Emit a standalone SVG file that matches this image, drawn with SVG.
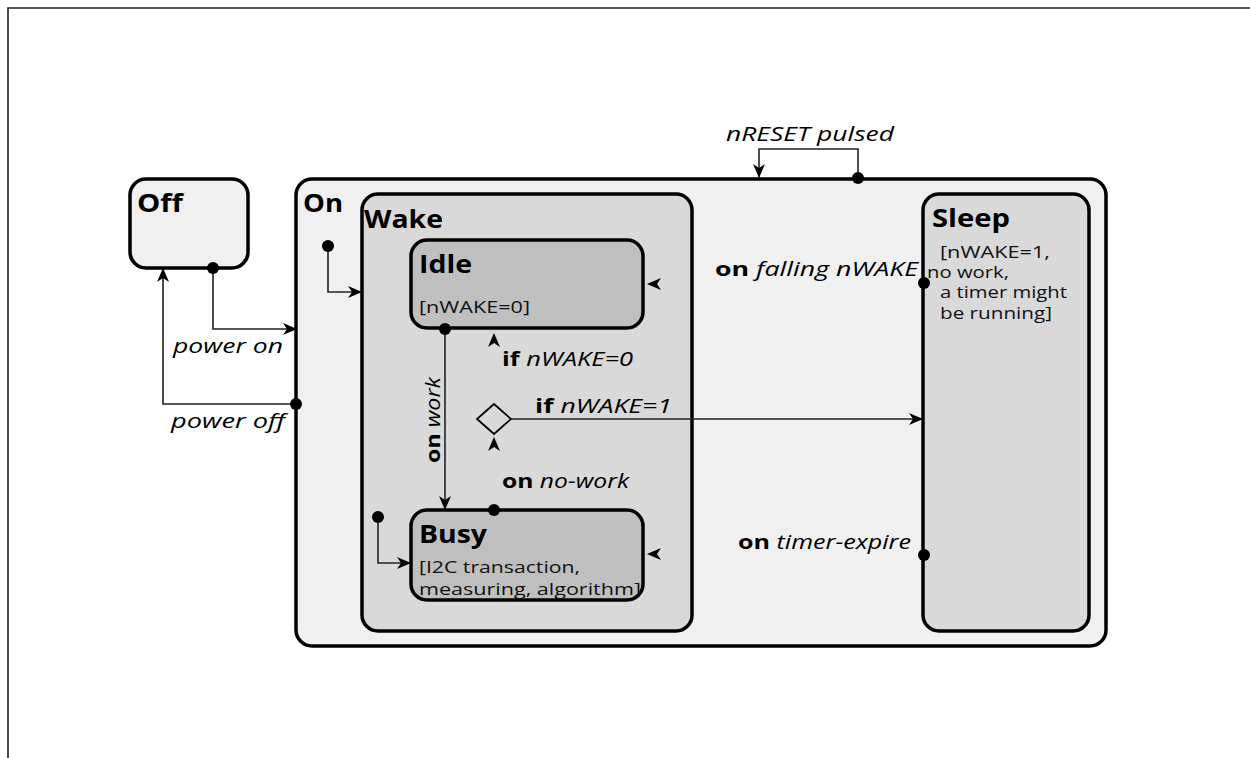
<svg xmlns="http://www.w3.org/2000/svg" xmlns:xlink="http://www.w3.org/1999/xlink" width="1250" height="758" viewBox="0 0 1250 758">
<style>
.frame{fill:none;stroke:#222;stroke-width:1.6}
.st{stroke:#000;stroke-width:3.5}
.l1{fill:#f0f0f0}
.l2{fill:#d9d9d9}
.l3{fill:#bfbfbf}
.title{font-family:"Open Sans","DejaVu Sans",sans-serif;font-weight:bold;font-size:25px;fill:#000}
.body{font-family:"Open Sans","DejaVu Sans",sans-serif;font-size:17px;fill:#111}
.lbl{font-family:"Open Sans","DejaVu Sans",sans-serif;font-size:20px;fill:#000}
.b{font-weight:bold;font-style:normal}
.i{font-style:italic}
.c{fill:none;stroke:#222;stroke-width:1.6}
.dot{fill:#000}
</style>
<defs>
<marker id="arr" viewBox="0 0 14 12" refX="13" refY="6" markerWidth="14" markerHeight="12" markerUnits="userSpaceOnUse" orient="auto">
<path d="M0,0 L14,6 L0,12 L4,6 z" fill="#000"/>
</marker>
<path id="dart" d="M0,0 L-14,-6 L-10,0 L-14,6 z" fill="#000"/>
</defs>
<rect width="1250" height="758" fill="#fff"/>
<path class="frame" d="M8,758 L8,8 L1250,8"/>

<g id="Off">
<rect class="st l1" x="130" y="179" width="118" height="89" rx="16"/>
<text class="title" x="137" y="212" textLength="46" lengthAdjust="spacingAndGlyphs">Off</text>
</g>
<g id="On">
<rect class="st l1" x="296" y="179" width="810" height="467" rx="16"/>
<text class="title" x="303" y="212" textLength="40" lengthAdjust="spacingAndGlyphs">On</text>
</g>
<g id="Wake">
<rect class="st l2" x="362" y="194" width="330" height="437" rx="16"/>
<text class="title" x="364" y="228" textLength="79" lengthAdjust="spacingAndGlyphs">Wake</text>
</g>
<g id="Idle">
<rect class="st l3" x="411" y="240" width="232" height="88" rx="16"/>
<text class="title" x="419" y="273" font-size="27" textLength="53" lengthAdjust="spacingAndGlyphs">Idle</text>
<text class="body" x="419" y="313" font-size="18" textLength="111" lengthAdjust="spacingAndGlyphs">[nWAKE=0]</text>
</g>
<g id="Busy">
<rect class="st l3" x="411" y="510" width="232" height="90" rx="16"/>
<text class="title" x="419" y="543" font-size="27" textLength="68" lengthAdjust="spacingAndGlyphs">Busy</text>
<text class="body" x="419" y="573" textLength="161" lengthAdjust="spacingAndGlyphs">[I2C transaction,</text>
<text class="body" x="419" y="595" textLength="222" lengthAdjust="spacingAndGlyphs">measuring, algorithm]</text>
</g>
<g id="Sleep">
<rect class="st l2" x="923" y="194" width="166" height="437" rx="16"/>
<text class="title" x="932" y="227" font-size="27" textLength="78" lengthAdjust="spacingAndGlyphs">Sleep</text>
<text class="body" x="940" y="258" font-size="15" textLength="110" lengthAdjust="spacingAndGlyphs">[nWAKE=1,</text>
<text class="body" x="927" y="278" font-size="15" textLength="82" lengthAdjust="spacingAndGlyphs">no work,</text>
<text class="body" x="940" y="298" font-size="15" textLength="127" lengthAdjust="spacingAndGlyphs">a timer might</text>
<text class="body" x="940" y="319" font-size="15" textLength="112" lengthAdjust="spacingAndGlyphs">be running]</text>
</g>
<g id="Choice">
<path d="M494,404 L511,419 L494,434 L477,419 z" fill="#d9d9d9" stroke="#000" stroke-width="1.8"/>
</g>

<g id="connectors">
<path class="c" d="M213,268 L213,329 L296,329" marker-end="url(#arr)"/>
<circle class="dot" cx="213" cy="268" r="6"/>
<path class="c" d="M296,404 L163,404 L163,269" marker-end="url(#arr)"/>
<circle class="dot" cx="296" cy="404" r="6"/>
<path class="c" d="M328,246 L328,292 L361,292" marker-end="url(#arr)"/>
<circle class="dot" cx="328" cy="246" r="6"/>
<path class="c" d="M378,517 L378,563 L410,563" marker-end="url(#arr)"/>
<circle class="dot" cx="378" cy="517" r="6"/>
<path class="c" d="M445,329 L445,509" marker-end="url(#arr)"/>
<circle class="dot" cx="445" cy="329" r="6"/>
<path class="c" d="M858,178 L858,149 L759,149 L759,177" marker-end="url(#arr)"/>
<circle class="dot" cx="858" cy="178" r="6"/>
<path class="c" d="M511,419 L922,419" marker-end="url(#arr)"/>
<circle class="dot" cx="494" cy="510" r="6"/>
<circle class="dot" cx="924" cy="283" r="6"/>
<circle class="dot" cx="924" cy="555" r="6"/>
<use xlink:href="#dart" transform="translate(647,284) rotate(180)"/>
<use xlink:href="#dart" transform="translate(647,554) rotate(180)"/>
<use xlink:href="#dart" transform="translate(494,333) rotate(-90)"/>
<use xlink:href="#dart" transform="translate(494,437) rotate(-90)"/>

<text class="lbl i" x="173" y="353" textLength="110" lengthAdjust="spacingAndGlyphs">power on</text>
<text class="lbl i" x="171" y="428" textLength="114" lengthAdjust="spacingAndGlyphs">power off</text>
<text class="lbl i" x="726" y="141" textLength="168" lengthAdjust="spacingAndGlyphs">nRESET pulsed</text>
<text class="lbl" x="502" y="366" textLength="131" lengthAdjust="spacingAndGlyphs"><tspan class="b">if</tspan> <tspan class="i">nWAKE=0</tspan></text>
<text class="lbl" x="535" y="413" textLength="137" lengthAdjust="spacingAndGlyphs"><tspan class="b">if</tspan> <tspan class="i">nWAKE=1</tspan></text>
<text class="lbl" x="502" y="488" textLength="127" lengthAdjust="spacingAndGlyphs"><tspan class="b">on</tspan> <tspan class="i">no-work</tspan></text>
<text class="lbl" transform="translate(440,463) rotate(-90)" textLength="86" lengthAdjust="spacingAndGlyphs"><tspan class="b">on</tspan> <tspan class="i">work</tspan></text>
<text class="lbl" x="715" y="276" textLength="203" lengthAdjust="spacingAndGlyphs"><tspan class="b">on</tspan> <tspan class="i">falling nWAKE</tspan></text>
<text class="lbl" x="738" y="549" textLength="173" lengthAdjust="spacingAndGlyphs"><tspan class="b">on</tspan> <tspan class="i">timer-expire</tspan></text>
</g>
</svg>
